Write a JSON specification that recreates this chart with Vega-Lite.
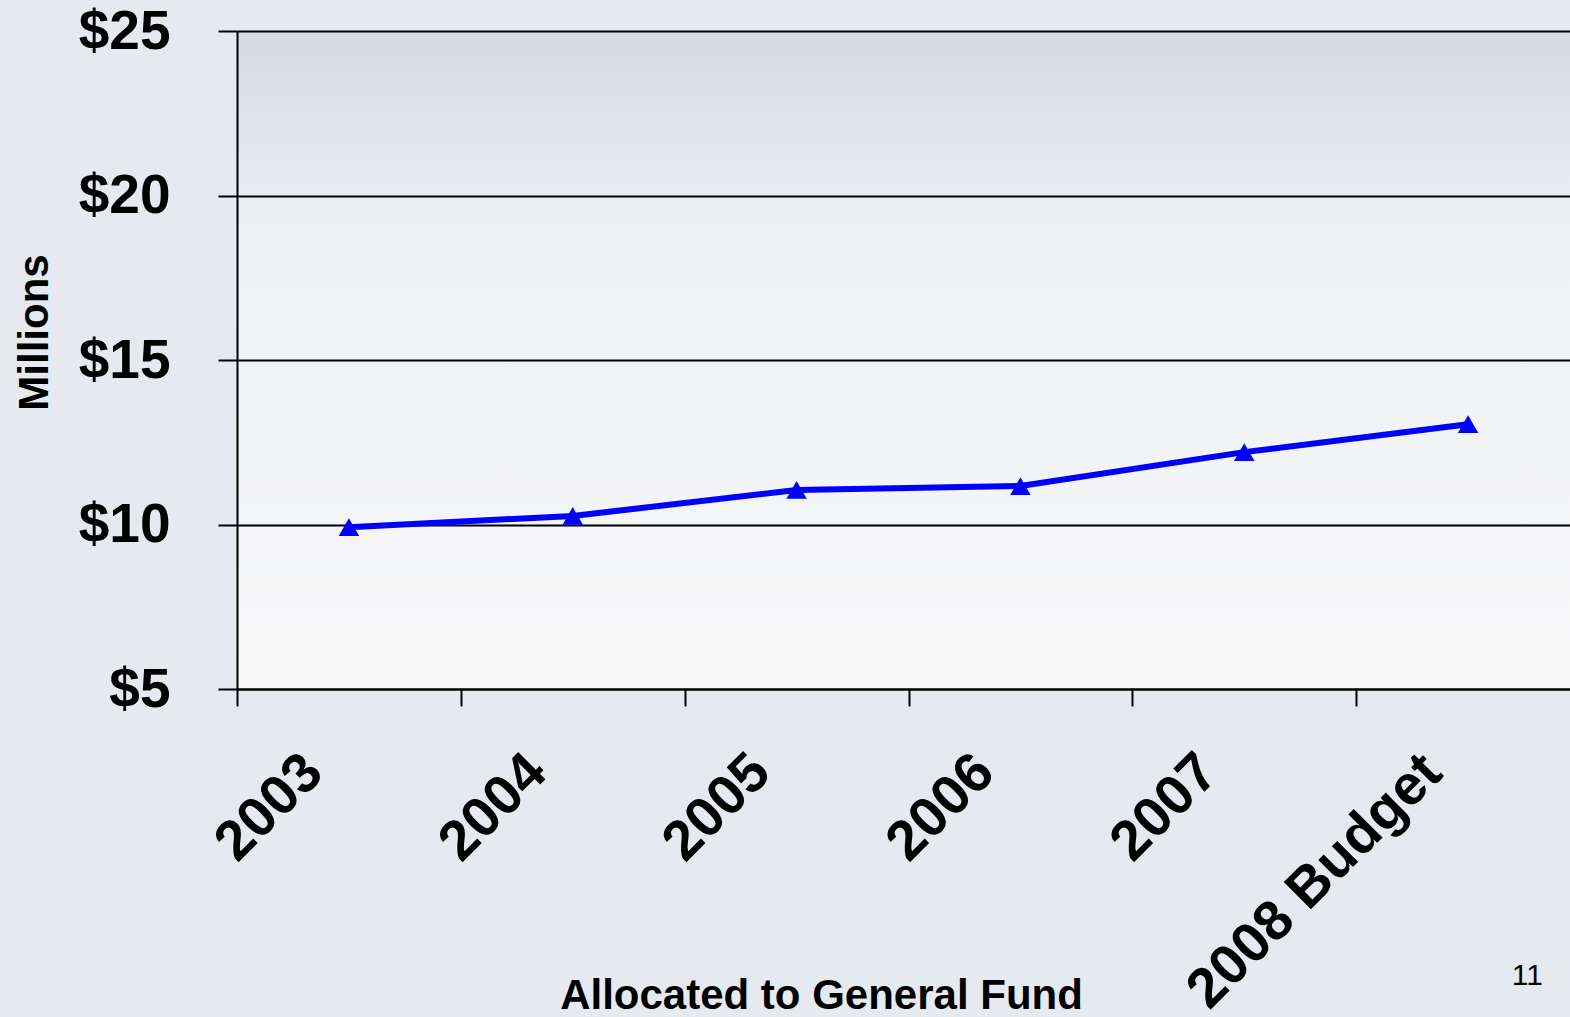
{
  "$schema": "https://vega.github.io/schema/vega-lite/v6.json",
  "width": 1343,
  "height": 658,
  "autosize": {"type": "none"},
  "padding": {"left": 237, "top": 31, "right": 0, "bottom": 328},
  "background": "#e6eaf0",
  "config": {
    "view": {
      "stroke": null,
      "fill": {"gradient": "linear", "x1": 0, "y1": 0, "x2": 0, "y2": 1,
        "stops": [{"offset": 0, "color": "#d3dae4"}, {"offset": 0.3, "color": "#eef0f3"}, {"offset": 1, "color": "#f7f7f8"}]}
    },
    "font": "Liberation Sans"
  },
  "title": {
    "text": "11",
    "orient": "bottom",
    "anchor": "end",
    "frame": "group",
    "font": "Liberation Sans",
    "fontSize": 30,
    "fontWeight": "normal",
    "color": "#000000",
    "dx": -37,
    "dy": -61
  },
  "data": {
    "values": [
      {"year": "2003", "value": 9.92},
      {"year": "2004", "value": 10.26},
      {"year": "2005", "value": 11.05},
      {"year": "2006", "value": 11.17},
      {"year": "2007", "value": 12.2},
      {"year": "2008 Budget", "value": 13.05}
    ]
  },
  "encoding": {
    "x": {
      "field": "year",
      "type": "nominal",
      "sort": null,
      "scale": {"type": "band", "paddingInner": 0, "paddingOuter": 0},
      "axis": {
        "title": "Allocated to General Fund",
        "titleFont": "Liberation Sans",
        "titleFontSize": 42,
        "titleFontWeight": "bold",
        "titleColor": "#000000",
        "titleX": 584,
        "titleY": 319,
        "titleAlign": "center",
        "titleBaseline": "alphabetic",
        "domain": true,
        "domainColor": "#000000",
        "domainWidth": 2,
        "ticks": true,
        "tickBand": "extent",
        "tickColor": "#000000",
        "tickWidth": 2,
        "tickSize": 17,
        "grid": false,
        "labelAngle": -45,
        "labelAlign": "right",
        "labelBaseline": "middle",
        "labelFont": "Liberation Sans",
        "labelFontSize": 56,
        "labelFontWeight": "bold",
        "labelColor": "#000000",
        "labelOffset": -36,
        "labelPadding": 57,
        "labelOverlap": false,
        "labelLimit": 1000
      }
    },
    "y": {
      "field": "value",
      "type": "quantitative",
      "scale": {"domain": [5, 25], "nice": false, "zero": false},
      "axis": {
        "title": "Millions",
        "titleFont": "Liberation Sans",
        "titleFontSize": 42,
        "titleFontWeight": "bold",
        "titleColor": "#000000",
        "titleAngle": -90,
        "titleX": -203,
        "titleY": 301,
        "titleAlign": "center",
        "titleBaseline": "middle",
        "values": [5, 10, 15, 20, 25],
        "labelExpr": "'$' + datum.value",
        "labelFont": "Liberation Sans",
        "labelFontSize": 55,
        "labelFontWeight": "bold",
        "labelColor": "#000000",
        "labelPadding": 48,
        "labelAlign": "right",
        "labelBaseline": "middle",
        "domain": true,
        "domainColor": "#000000",
        "domainWidth": 2,
        "ticks": true,
        "tickColor": "#000000",
        "tickWidth": 2,
        "tickSize": 19,
        "grid": true,
        "gridColor": "#000000",
        "gridWidth": 2,
        "gridOpacity": 1
      }
    }
  },
  "layer": [
    {"mark": {"type": "line", "color": "#0000ff", "strokeWidth": 6}},
    {"mark": {"type": "point", "shape": "triangle-up", "filled": true, "color": "#0000ff", "opacity": 1, "size": 420}}
  ]
}
